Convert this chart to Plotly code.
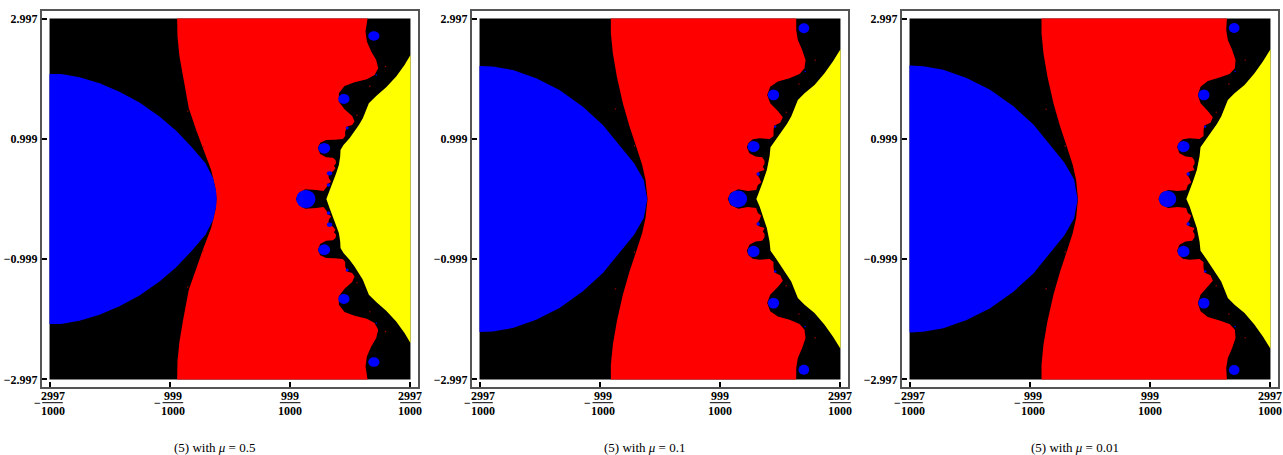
import plotly.graph_objects as go

W, H = 1283, 455
FRAME_LEFT = [42, 472, 902]
FRAME_TOP, FRAME_SIZE = 11, 376
AXIS_LIMIT = 3.122
TICKS = [-2.997, -0.999, 0.999, 2.997]
Y_TICK_TEXT = ["\u22122.997", "\u22120.999", "0.999", "2.997"]
X_NUMERATORS = ["2997", "999", "999", "2997"]
DENOMINATOR = "1000"
CAPTIONS = ["(5) with <i>\u03bc</i> = 0.5", "(5) with <i>\u03bc</i> = 0.1", "(5) with <i>\u03bc</i> = 0.01"]
CAPTION_CENTERS = [214.5, 644.5, 1075]

# Upper-half boundaries (the basins are symmetric about y = 0)
red_left_x_1 = [-0.878, -0.872, -0.839, -0.773, -0.684, -0.562, -0.440, -0.313, -0.241, -0.224]
red_left_y_1 = [2.997, 2.697, 2.365, 1.977, 1.506, 1.147, 0.814, 0.482, 0.178, 0]
red_right_x_1 = [2.284, 2.251, 2.273, 2.345, 2.428, 2.461, 2.400, 2.273, 2.068, 1.902, 1.808, 1.808, 1.902, 2.029, 2.068, 2.029, 1.946, 1.913, 1.913, 1.874, 1.736, 1.597, 1.498, 1.459, 1.498, 1.597, 1.708, 1.752, 1.763, 1.725, 1.752, 1.708, 1.630, 1.642, 1.680, 1.625, 1.608, 1.553, 1.432, 1.250, 1.154, 1.093]
red_right_y_1 = [2.997, 2.780, 2.614, 2.448, 2.309, 2.171, 2.060, 1.988, 1.938, 1.878, 1.756, 1.617, 1.490, 1.379, 1.285, 1.230, 1.202, 1.119, 1.047, 0.997, 0.986, 0.981, 0.936, 0.842, 0.748, 0.693, 0.687, 0.648, 0.593, 0.554, 0.510, 0.455, 0.427, 0.344, 0.288, 0.250, 0.205, 0.133, 0.150, 0.160, 0.105, 0]
yellow_x_1 = [2.997, 2.898, 2.760, 2.594, 2.428, 2.306, 2.251, 2.206, 2.140, 2.068, 1.985, 1.885, 1.835, 1.830, 1.808, 1.763, 1.708, 1.653, 1.600]
yellow_y_1 = [2.392, 2.226, 2.033, 1.855, 1.711, 1.590, 1.451, 1.340, 1.230, 1.119, 1.008, 0.897, 0.814, 0.704, 0.565, 0.427, 0.288, 0.150, 0]
blue_x_1 = [-2.997, -2.805, -2.500, -2.168, -1.836, -1.503, -1.171, -0.894, -0.645, -0.407, -0.279, -0.230, -0.222]
blue_y_1 = [2.077, 2.077, 2.021, 1.922, 1.783, 1.601, 1.368, 1.135, 0.870, 0.593, 0.344, 0.122, 0]

red_left_x_2 = [-0.816, -0.816, -0.783, -0.717, -0.617, -0.506, -0.395, -0.296, -0.240, -0.207]
red_left_y_2 = [2.997, 2.752, 2.420, 2.033, 1.590, 1.202, 0.870, 0.565, 0.316, 0]
red_right_x_2 = [2.262, 2.262, 2.289, 2.361, 2.417, 2.400, 2.317, 2.151, 1.957, 1.830, 1.780, 1.830, 1.957, 2.040, 1.996, 1.902, 1.885, 1.885, 1.819, 1.653, 1.542, 1.470, 1.442, 1.486, 1.586, 1.697, 1.736, 1.736, 1.708, 1.736, 1.653, 1.608, 1.653, 1.680, 1.625, 1.597, 1.459, 1.300, 1.170, 1.125]
red_right_y_2 = [2.997, 2.808, 2.642, 2.476, 2.309, 2.171, 2.077, 2.005, 1.950, 1.866, 1.728, 1.590, 1.462, 1.357, 1.268, 1.219, 1.147, 1.047, 0.997, 1.008, 0.992, 0.936, 0.859, 0.759, 0.704, 0.693, 0.637, 0.582, 0.538, 0.482, 0.455, 0.416, 0.344, 0.272, 0.233, 0.150, 0.133, 0.160, 0.100, 0]
yellow_x_2 = [2.997, 2.871, 2.732, 2.566, 2.400, 2.289, 2.234, 2.179, 2.107, 2.029, 1.929, 1.835, 1.819, 1.774, 1.708, 1.653, 1.600]
yellow_y_2 = [2.487, 2.282, 2.088, 1.894, 1.756, 1.645, 1.507, 1.368, 1.246, 1.136, 0.992, 0.859, 0.704, 0.482, 0.288, 0.122, 0]
blue_x_2 = [-2.997, -2.776, -2.444, -2.057, -1.669, -1.281, -0.949, -0.672, -0.430, -0.270, -0.218, -0.212]
blue_y_2 = [2.210, 2.199, 2.143, 2.005, 1.811, 1.534, 1.230, 0.897, 0.593, 0.316, 0.039, 0]

red_left_x_3 = [-0.805, -0.805, -0.773, -0.707, -0.607, -0.496, -0.385, -0.286, -0.230, -0.200]
red_left_y_3 = red_left_y_2
red_right_x_3 = [2.273, 2.262, 2.289, 2.361, 2.417, 2.406, 2.317, 2.151, 1.957, 1.836, 1.791, 1.836, 1.957, 2.040, 2.001, 1.902, 1.885, 1.885, 1.819, 1.653, 1.542, 1.475, 1.448, 1.486, 1.586, 1.697, 1.736, 1.736, 1.708, 1.736, 1.653, 1.608, 1.653, 1.680, 1.625, 1.597, 1.459, 1.300, 1.180, 1.138]
red_right_y_3 = [2.997, 2.808, 2.642, 2.476, 2.309, 2.171, 2.077, 2.016, 1.961, 1.866, 1.728, 1.590, 1.462, 1.357, 1.268, 1.219, 1.147, 1.047, 0.997, 1.008, 0.992, 0.936, 0.859, 0.759, 0.704, 0.693, 0.637, 0.582, 0.538, 0.482, 0.455, 0.416, 0.344, 0.272, 0.233, 0.150, 0.133, 0.150, 0.100, 0]
yellow_x_3 = yellow_x_2
yellow_y_3 = yellow_y_2
blue_x_3 = [-2.997, -2.770, -2.436, -2.050, -1.660, -1.272, -0.940, -0.664, -0.424, -0.264, -0.212, -0.206]
blue_y_3 = [2.216, 2.204, 2.148, 2.010, 1.816, 1.540, 1.236, 0.903, 0.600, 0.322, 0.044, 0]

# Blue satellite basins: centre and radii, upper half
spot_x_1 = [1.259, 1.564, 1.891, 2.389, 1.653, 1.636, 1.946, 2.428]
spot_y_1 = [0, 0.842, 1.662, 2.708, 0.427, 0.233, 1.180, 2.060]
spot_rx_1 = [0.161, 0.100, 0.094, 0.094, 0.045, 0.030, 0.025, 0.012]
spot_ry_1 = [0.150, 0.089, 0.083, 0.078, 0.035, 0.030, 0.025, 0.012]
spot_x_2 = [1.292, 1.553, 1.885, 2.389, 1.630, 1.913, 2.411]
spot_y_2 = [0, 0.870, 1.728, 2.835, 0.416, 1.202, 2.116]
spot_rx_2 = [0.155, 0.100, 0.094, 0.089, 0.028, 0.020, 0.012]
spot_ry_2 = [0.140, 0.094, 0.090, 0.083, 0.028, 0.020, 0.012]
spot_x_3 = [1.287, 1.553, 1.891, 2.394, 1.630, 1.913, 2.411]
spot_y_3 = [0, 0.870, 1.728, 2.841, 0.416, 1.202, 2.116]
spot_rx_3 = [0.145, 0.100, 0.094, 0.089, 0.028, 0.020, 0.012]
spot_ry_3 = [0.136, 0.094, 0.090, 0.083, 0.028, 0.020, 0.012]

# Tiny stray pixels
speck_x_1 = [2.583, 2.322, 2.107, -0.701, -0.440]
speck_y_1 = [2.199, 1.872, 1.390, 1.462, 0.864]
speck_x_2 = [2.577, 2.306, 2.096, -0.739, -0.423]
speck_y_2 = [2.304, 1.911, 1.440, 1.496, 0.886]
speck_x_3 = [2.577, 2.306, 2.096, -0.728, -0.412]
speck_y_3 = [2.304, 1.911, 1.440, 1.490, 0.881]

PANELS = [
    (red_left_x_1, red_left_y_1, red_right_x_1, red_right_y_1, yellow_x_1, yellow_y_1, blue_x_1, blue_y_1,
     spot_x_1, spot_y_1, spot_rx_1, spot_ry_1, speck_x_1, speck_y_1),
    (red_left_x_2, red_left_y_2, red_right_x_2, red_right_y_2, yellow_x_2, yellow_y_2, blue_x_2, blue_y_2,
     spot_x_2, spot_y_2, spot_rx_2, spot_ry_2, speck_x_2, speck_y_2),
    (red_left_x_3, red_left_y_3, red_right_x_3, red_right_y_3, yellow_x_3, yellow_y_3, blue_x_3, blue_y_3,
     spot_x_3, spot_y_3, spot_rx_3, spot_ry_3, speck_x_3, speck_y_3),
]

SERIF = "Liberation Serif"
PX_PER_UNIT = FRAME_SIZE / (2 * AXIS_LIMIT)
BOLD = dict(family=SERIF, size=12, weight=700, color="#000000")


def mirrored(xs, ys):
    return list(xs) + list(xs[-2::-1]), list(ys) + [-v for v in ys[-2::-1]]


def area(xs, ys, color, xa, ya):
    return go.Scatter(x=xs, y=ys, mode="lines", fill="toself", fillcolor=color,
                      line=dict(width=0, color=color), xaxis=xa, yaxis=ya,
                      hoverinfo="skip", showlegend=False)


def label(px, py, text, font):
    return dict(xref="paper", yref="paper", x=px / W, y=1 - py / H, text=text, showarrow=False,
                xanchor="center", yanchor="middle", borderpad=0, font=font)


fig = go.Figure()
shapes, annotations = [], []
layout_axes = {}
L = TICKS[-1]

for i, p in enumerate(PANELS):
    (rlx, rly, rrx, rry, yx, yy, bx, by, sx, sy, srx, sry, kx, ky) = p
    suffix = "" if i == 0 else str(i + 1)
    xa, ya = "x" + suffix, "y" + suffix
    left = FRAME_LEFT[i]
    center_px = left + FRAME_SIZE / 2

    fig.add_trace(area([-L, L, L, -L, -L], [L, L, -L, -L, L], "#000000", xa, ya))

    lx, ly = mirrored(rlx, rly)
    rx, ry = mirrored(rrx, rry)
    fig.add_trace(area(lx + rx[::-1], ly + ry[::-1], "#ff0000", xa, ya))

    fx, fy = mirrored(yx, yy)
    fig.add_trace(area(fx, fy, "#ffff00", xa, ya))

    cx, cy = mirrored(bx, by)
    fig.add_trace(area(cx, cy, "#0000ff", xa, ya))

    for a, b, c, d in zip(sx, sy, srx, sry):
        for sign in ([1] if b == 0 else [1, -1]):
            shapes.append(dict(type="circle", xref=xa, yref=ya, x0=a - c, x1=a + c,
                               y0=sign * b - d, y1=sign * b + d,
                               fillcolor="#0000ff", line=dict(width=0)))

    fig.add_trace(go.Scatter(x=kx + kx, y=ky + [-v for v in ky], mode="markers",
                             marker=dict(color="#a00000", size=1.5, line=dict(width=0)),
                             xaxis=xa, yaxis=ya, hoverinfo="skip", showlegend=False))

    common = dict(range=[-AXIS_LIMIT, AXIS_LIMIT], showgrid=False, zeroline=False,
                  showline=True, mirror=True, linecolor="#555555", linewidth=2,
                  ticks="inside", ticklen=5, tickwidth=2, tickcolor="#000000",
                  tickmode="array", tickvals=TICKS, automargin=False, tickfont=BOLD)
    layout_axes["xaxis" + suffix] = dict(common, showticklabels=False, anchor=ya,
                                         domain=[left / W, (left + FRAME_SIZE) / W])
    layout_axes["yaxis" + suffix] = dict(common, ticktext=Y_TICK_TEXT, anchor=xa,
                                         domain=[1 - (FRAME_TOP + FRAME_SIZE) / H, 1 - FRAME_TOP / H])

    for t, n in zip(TICKS, X_NUMERATORS):
        tick_px = center_px + t * PX_PER_UNIT
        frac_px = tick_px + (3 if t < 0 else 0)
        shapes.append(dict(type="line", xref="paper", yref="paper",
                           x0=(frac_px - 10.3) / W, x1=(frac_px + 10.3) / W,
                           y0=1 - 402.7 / H, y1=1 - 402.7 / H,
                           line=dict(color="#000000", width=1)))
        annotations.append(label(frac_px, 396.2, n, BOLD))
        annotations.append(label(frac_px, 411, DENOMINATOR, BOLD))
        if t < 0:
            annotations.append(label(tick_px - 12.5, 402.5, "\u2212", BOLD))

    annotations.append(label(CAPTION_CENTERS[i], 447.5, CAPTIONS[i],
                             dict(family=SERIF, size=13, color="#000000")))

fig.update_layout(width=W, height=H, margin=dict(l=0, r=0, t=0, b=0), showlegend=False,
                  paper_bgcolor="#ffffff", plot_bgcolor="#ffffff",
                  shapes=shapes, annotations=annotations, **layout_axes)

fig.write_html("out.html", config={"displayModeBar": False},
               post_script="document.body.style.margin='0';document.body.style.overflow='hidden';")
